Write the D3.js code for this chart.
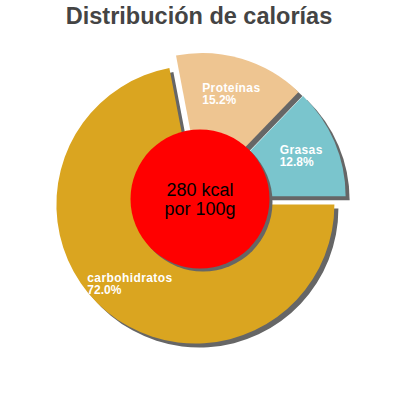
<!DOCTYPE html>
<html>

<head>
    <meta charset="utf-8">
    <title>Distribución de calorías</title>
    <script src="https://d3js.org/d3.v7.min.js"></script>
    <style>
        body {
            margin: 0;
            background: #fff;
        }

        text {
            font-family: "Liberation Sans", Arial, sans-serif;
        }

        .title {
            font-size: 23.5px;
            font-weight: bold;
            fill: #444;
        }

        .slice-label {
            font-size: 12px;
            font-weight: bold;
            fill: #fff;
        }

        .center-label {
            font-size: 18px;
            fill: #000;
        }
    </style>
</head>

<body>
    <div id="chart"></div>

    <script>
        // data, counter-clockwise from 3 o'clock
        const categories = ["Grasas", "Proteínas", "carbohidratos"];
        const percents = [12.8, 15.2, 72.0];
        const colors = ["#7AC5CD", "#EEC591", "#DAA520"];
        const centerLines = ["280 kcal", "por 100g"];
        const title = "Distribución de calorías";

        const width = 400, height = 400;
        const cx = 200, cy = 199;
        const radius = 139;
        const explode = 7.2;
        const holeRadius = 69.5;
        const labelRadius = 110;

        const svg = d3.select("#chart")
            .append("svg")
            .attr("width", width)
            .attr("height", height);

        svg.append("text")
            .attr("class", "title")
            .attr("x", width / 2 - 1)
            .attr("y", 24)
            .attr("text-anchor", "middle")
            .text(title);

        const data = categories.map((c, i) => ({ name: c, value: percents[i], color: colors[i] }));

        const pie = d3.pie()
            .sort(null)
            .value(d => d.value)
            .startAngle(Math.PI / 2)
            .endAngle(Math.PI / 2 - 2 * Math.PI);

        const arcs = pie(data);

        const arc = d3.arc().innerRadius(0).outerRadius(radius);
        const labelArc = d3.arc().innerRadius(labelRadius).outerRadius(labelRadius);

        function offset(d) {
            const mid = (d.startAngle + d.endAngle) / 2;
            return [explode * Math.sin(mid), -explode * Math.cos(mid)];
        }

        const g = svg.append("g")
            .attr("transform", `translate(${cx},${cy})`);

        // shadows first
        g.selectAll(".shadow")
            .data(arcs)
            .join("path")
            .attr("class", "shadow")
            .attr("d", arc)
            .attr("fill", "#666")
            .attr("transform", d => {
                const [dx, dy] = offset(d);
                return `translate(${dx + 4},${dy + 4})`;
            });

        g.selectAll(".slice")
            .data(arcs)
            .join("path")
            .attr("class", "slice")
            .attr("d", arc)
            .attr("fill", d => d.data.color)
            .attr("transform", d => {
                const [dx, dy] = offset(d);
                return `translate(${dx},${dy})`;
            });

        // labels, two lines, left aligned, block centred on the label arc
        arcs.forEach(d => {
            const [lx, ly] = labelArc.centroid(d);
            const t = g.append("text").attr("class", "slice-label");
            const l1 = t.append("tspan")
                .attr("y", ly - 1.5)
                .attr("letter-spacing", 0.4)
                .text(d.data.name);
            const l2 = t.append("tspan")
                .attr("y", ly + 10.3)
                .text(d.data.value.toFixed(1) + "%");
            const w = Math.max(l1.node().getComputedTextLength(), l2.node().getComputedTextLength());
            l1.attr("x", lx - w / 2);
            l2.attr("x", lx - w / 2);
        });

        // centre disc
        g.append("circle")
            .attr("cx", 3)
            .attr("cy", 3)
            .attr("r", holeRadius)
            .attr("fill", "#666");

        g.append("circle")
            .attr("r", holeRadius)
            .attr("fill", "#ff0000");

        g.append("text")
            .attr("class", "center-label")
            .attr("text-anchor", "middle")
            .selectAll("tspan")
            .data(centerLines)
            .join("tspan")
            .attr("x", 0)
            .attr("y", (d, i) => -3 + i * 19)
            .text(d => d);
    </script>
</body>

</html>
